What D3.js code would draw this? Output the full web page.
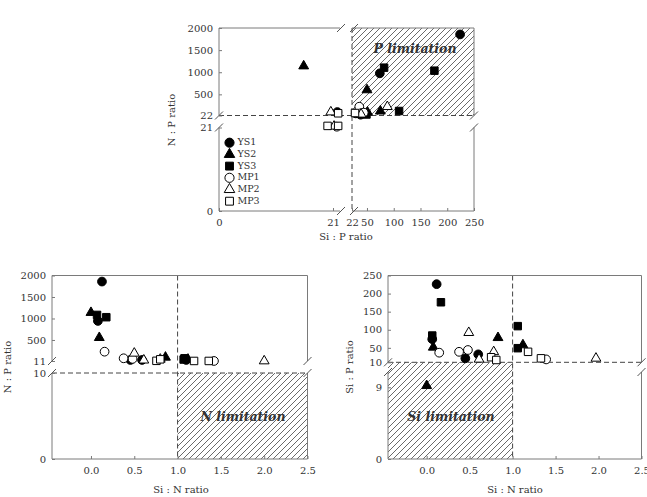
<!DOCTYPE html>
<html>
<head>
<meta charset="utf-8">
<script src="https://cdn.jsdelivr.net/npm/d3@7"></script>
<style>
  body { margin: 0; background: #fff; }
  text { font-family: "DejaVu Serif", serif; fill: #333; }
</style>
</head>
<body>
<div id="chart"></div>
<script>
// series, in legend order
const seriesNames = ["YS1", "YS2", "YS3", "MP1", "MP2", "MP3"];

// top panel: Si:P (x) against N:P (y), one list per series
const topSiP = [
  [224, 74, 21.8, 29, 38],
  [15.6, 50, 75, 51],
  [82, 176, 110, 49],
  [35.6, 39, 44, 21.7],
  [88, 20.6, 21.2, 39],
  [21.95, 27.6, 20.0, 21.95]
];
const topNP = [
  [1855, 975, 100, 70, 40],
  [1140, 600, 120, 95],
  [1103, 1035, 124, 45],
  [221, 74, 87, 21.2],
  [221, 100, 21.3, 50],
  [72, 78, 21.4, 21.4]
];

// bottom left: Si:N (x) against N:P (y)
const leftSiN = [
  [0.127, 0.08, 0.455, 0.59, 1.10],
  [0.0, 0.096, 0.86, 1.12],
  [0.07, 0.177, 1.08, 1.07],
  [0.157, 0.377, 0.48, 1.42],
  [0.50, 0.61, 0.80, 2.0],
  [0.756, 0.80, 1.19, 1.36]
];
const leftNP = [
  [1859, 943, 35, 35, 35],
  [1137, 554, 97, 50],
  [1083, 1030, 74, 45],
  [228, 74, 60, 12],
  [190, 30, 50, 11],
  [15, 50, 12, 12]
];

// bottom right: Si:N (x) against Si:P (y)
const rightSiN = [
  [0.116, 0.065, 0.45, 0.60],
  [0.0, 0.077, 0.83, 1.12],
  [0.166, 0.065, 1.06, 1.06],
  [0.146, 0.377, 0.48, 1.39],
  [0.49, 0.61, 0.78, 1.97],
  [0.75, 0.81, 1.18, 1.33]
];
const rightSiP = [
  [226, 74, 21, 32],
  [9.2, 51.5, 78, 58],
  [176, 84, 110, 49],
  [36.6, 39, 44, 18],
  [92, 18.3, 39, 21],
  [24, 16.4, 39, 21]
];

// tick labels
const topXLowTicks = [0, 21];
const topXHighTicks = [22, 50, 100, 150, 200, 250];
const topYHighTicks = [22, 500, 1000, 1500, 2000];
const topYLowTicks = [0, 21];
const leftYHighTicks = [11, 500, 1000, 1500, 2000];
const leftYLowTicks = [0, 10];
const rightYHighTicks = [10, 50, 100, 150, 200, 250];
const rightYLowTicks = [0, 9];
const siNTicks = [0, 0.5, 1, 1.5, 2, 2.5];

// limitation thresholds
const pLimit = 22;
const nLimitNP = 10;
const siLimitSiP = 10;
const siNLimit = 1;

const width = 647, height = 497;
const frameColor = "#7a7a7a";
const dashColor = "#444";

const svg = d3.select("#chart").append("svg")
  .attr("width", width)
  .attr("height", height);

// hatch pattern
svg.append("defs").append("pattern")
  .attr("id", "hatch")
  .attr("patternUnits", "userSpaceOnUse")
  .attr("width", 6).attr("height", 6)
  .append("path")
  .attr("d", "M-1,1 l2,-2 M0,6 l6,-6 M5,7 l2,-2")
  .attr("stroke", "#444")
  .attr("stroke-width", 0.8);

const symbolTypes = [d3.symbolCircle, d3.symbolTriangle, d3.symbolSquare,
  d3.symbolCircle, d3.symbolTriangle, d3.symbolSquare];
const symbolSizes = [60, 42, 56, 60, 42, 56];
const filled = [true, true, true, false, false, false];

const split = (lo, hi, cut) => ({lo, hi, cut});
const place = (s, v) => s.cut === undefined ? s(v) : (v < s.cut ? s.lo(v) : s.hi(v));

function seg(g, x1, y1, x2, y2) {
  g.append("line")
    .attr("x1", x1).attr("y1", y1).attr("x2", x2).attr("y2", y2)
    .attr("stroke", frameColor).attr("stroke-width", 1);
}

function slash(g, x, y) {
  g.append("line")
    .attr("x1", x - 4).attr("y1", y + 4).attr("x2", x + 4).attr("y2", y - 4)
    .attr("stroke", "#555").attr("stroke-width", 1);
}

function dashed(g, x1, y1, x2, y2) {
  g.append("line")
    .attr("x1", x1).attr("y1", y1).attr("x2", x2).attr("y2", y2)
    .attr("stroke", dashColor).attr("stroke-width", 1)
    .attr("stroke-dasharray", "5,3");
}

function styleAxis(a) {
  a.select(".domain").remove();
  a.selectAll(".tick line").attr("stroke", frameColor);
  a.selectAll(".tick text")
    .style("font-family", "'DejaVu Serif', serif")
    .style("font-size", "10px")
    .attr("fill", "#333");
}

function yAxis(g, scale, ticks, x, fmt) {
  const a = g.append("g").attr("transform", "translate(" + x + ",0)")
    .call(d3.axisLeft(scale).tickValues(ticks).tickFormat(fmt || d3.format("d"))
      .tickSizeInner(-3).tickSizeOuter(0).tickPadding(6));
  styleAxis(a);
}

function xAxis(g, scale, ticks, y, fmt) {
  const a = g.append("g").attr("transform", "translate(0," + y + ")")
    .call(d3.axisBottom(scale).tickValues(ticks).tickFormat(fmt || d3.format("d"))
      .tickSizeInner(-3).tickSizeOuter(0).tickPadding(8));
  styleAxis(a);
}

function drawPoints(g, xs, ys, xSplit, ySplit) {
  seriesNames.forEach((name, i) => {
    const pts = xs[i].map((v, j) => [v, ys[i][j]]);
    g.selectAll(".pt-" + name)
      .data(pts)
      .join("path")
      .attr("class", "pt-" + name)
      .attr("d", d3.symbol().type(symbolTypes[i]).size(symbolSizes[i]))
      .attr("transform", d => "translate(" + place(xSplit, d[0]) + "," + place(ySplit, d[1]) + ")")
      .attr("fill", filled[i] ? "#000" : "#fff")
      .attr("stroke", "#000")
      .attr("stroke-width", 1);
  });
}

function label(g, x, y, txt, rotate, size) {
  g.append("text")
    .attr("transform", "translate(" + x + "," + y + ")" + (rotate ? " rotate(-90)" : ""))
    .attr("text-anchor", "middle")
    .attr("dominant-baseline", "middle")
    .style("font-size", (size || 10) + "px")
    .text(txt);
}

function limitLabel(g, x, y, txt) {
  g.append("text")
    .attr("x", x).attr("y", y)
    .attr("text-anchor", "middle")
    .attr("dominant-baseline", "middle")
    .style("font-size", "12.5px")
    .style("font-weight", "bold")
    .style("font-style", "italic")
    .attr("fill", "#333")
    .text(txt);
}

// ---------------- top panel: Si:P vs N:P ----------------
{
  const g = svg.append("g");
  const xLo = d3.scaleLinear().domain([0, 21]).range([219, 333]);
  const xHi = d3.scaleLinear().domain([22, 250]).range([352, 474]);
  const yHi = d3.scaleLinear().domain([22, 2000]).range([115.5, 28]);
  const yLo = d3.scaleLinear().domain([0, 21]).range([211, 127.5]);
  const xs = split(xLo, xHi, pLimit);
  const ys = split(yLo, yHi, pLimit);
  const xLoEnd = 340;

  // P limitation area
  g.append("rect")
    .attr("x", xHi(pLimit)).attr("y", yHi(2000))
    .attr("width", xHi(250) - xHi(pLimit))
    .attr("height", yHi(pLimit) - yHi(2000))
    .attr("fill", "url(#hatch)");
  limitLabel(g, 415, 49, "P limitation");

  dashed(g, xLo(0), yHi(pLimit), xHi(250), yHi(pLimit));
  dashed(g, xHi(pLimit), yHi(2000), xHi(pLimit), yLo(0));

  // frame in pieces
  [[yHi(2000), yHi(22)], [yLo(21), yLo(0)]].forEach(([a, b]) => {
    seg(g, xLo(0), a, xLo(0), b);
    seg(g, xHi(250), a, xHi(250), b);
  });
  [[xLo(0), xLoEnd], [xHi(22), xHi(250)]].forEach(([a, b]) => {
    seg(g, a, yLo(0), b, yLo(0));
    seg(g, a, yHi(2000), b, yHi(2000));
  });
  [yHi(22), yLo(21)].forEach(y => { slash(g, xLo(0), y); slash(g, xHi(250), y); });
  [xLoEnd + 1, xHi(22) + 2].forEach(x => { slash(g, x, yLo(0)); slash(g, x, yHi(2000)); });

  yAxis(g, yHi, topYHighTicks, xLo(0));
  yAxis(g, yLo, topYLowTicks, xLo(0));
  xAxis(g, xLo, topXLowTicks, yLo(0));
  xAxis(g, xHi, topXHighTicks, yLo(0));

  drawPoints(g, topSiP, topNP, xs, ys);

  // legend
  seriesNames.forEach((name, i) => {
    const y = 142.7 + i * 11.7;
    g.append("path")
      .attr("d", d3.symbol().type(symbolTypes[i]).size(symbolSizes[i] + 6))
      .attr("transform", "translate(229.5," + y + ")")
      .attr("fill", filled[i] ? "#000" : "#fff")
      .attr("stroke", "#000");
    g.append("text")
      .attr("x", 237.5).attr("y", y)
      .attr("dominant-baseline", "middle")
      .style("font-size", "9.5px")
      .text(name);
  });

  label(g, 346, 237, "Si : P ratio");
  label(g, 172, 120, "N : P ratio", true);
}

// ---------------- bottom left: Si:N vs N:P ----------------
{
  const g = svg.append("g");
  const x = d3.scaleLinear().domain([-0.45, 2.5]).range([52, 307.5]);
  const yHi = d3.scaleLinear().domain([11, 2000]).range([361, 275.5]);
  const yLo = d3.scaleLinear().domain([0, 10]).range([459, 373]);
  const ys = split(yLo, yHi, 11);

  // N limitation area
  g.append("rect")
    .attr("x", x(siNLimit)).attr("y", yLo(nLimitNP))
    .attr("width", x(2.5) - x(siNLimit))
    .attr("height", yLo(0) - yLo(nLimitNP))
    .attr("fill", "url(#hatch)");
  limitLabel(g, 243, 417, "N limitation");

  dashed(g, x(-0.45), yLo(nLimitNP), x(2.5), yLo(nLimitNP));
  dashed(g, x(siNLimit), yHi(2000), x(siNLimit), yLo(0));

  [[yHi(2000), yHi(11)], [yLo(10), yLo(0)]].forEach(([a, b]) => {
    seg(g, x(-0.45), a, x(-0.45), b);
    seg(g, x(2.5), a, x(2.5), b);
  });
  seg(g, x(-0.45), yLo(0), x(2.5), yLo(0));
  seg(g, x(-0.45), yHi(2000), x(2.5), yHi(2000));
  [yHi(11), yLo(10)].forEach(y => { slash(g, x(-0.45), y); slash(g, x(2.5), y); });

  yAxis(g, yHi, leftYHighTicks, x(-0.45));
  yAxis(g, yLo, leftYLowTicks, x(-0.45));
  xAxis(g, x, siNTicks, yLo(0), d3.format(".1f"));

  drawPoints(g, leftSiN, leftNP, x, ys);

  label(g, 181, 490, "Si : N ratio");
  label(g, 8, 367, "N : P ratio", true);
}

// ---------------- bottom right: Si:N vs Si:P ----------------
{
  const g = svg.append("g");
  const x = d3.scaleLinear().domain([-0.45, 2.5]).range([388, 641.5]);
  const yHi = d3.scaleLinear().domain([10, 250]).range([362.3, 275.5]);
  const yLo = d3.scaleLinear().domain([0, 9]).range([459, 387.3]);
  const ys = split(yLo, yHi, 10);
  const yLoTop = 372;

  // Si limitation area
  g.append("rect")
    .attr("x", x(-0.45)).attr("y", yHi(siLimitSiP))
    .attr("width", x(siNLimit) - x(-0.45))
    .attr("height", yLo(0) - yHi(siLimitSiP))
    .attr("fill", "url(#hatch)");
  limitLabel(g, 451, 417, "Si limitation");

  dashed(g, x(-0.45), yHi(siLimitSiP), x(2.5), yHi(siLimitSiP));
  dashed(g, x(siNLimit), yHi(250), x(siNLimit), yLo(0));

  [[yHi(250), yHi(10)], [yLoTop, yLo(0)]].forEach(([a, b]) => {
    seg(g, x(-0.45), a, x(-0.45), b);
    seg(g, x(2.5), a, x(2.5), b);
  });
  seg(g, x(-0.45), yLo(0), x(2.5), yLo(0));
  seg(g, x(-0.45), yHi(250), x(2.5), yHi(250));
  [yHi(10), yLoTop].forEach(y => { slash(g, x(-0.45), y); slash(g, x(2.5), y); });

  yAxis(g, yHi, rightYHighTicks, x(-0.45));
  yAxis(g, yLo, rightYLowTicks, x(-0.45));
  xAxis(g, x, siNTicks, yLo(0), d3.format(".1f"));

  drawPoints(g, rightSiN, rightSiP, x, ys);

  label(g, 515, 490, "Si : N ratio");
  label(g, 350, 367, "Si : P ratio", true);
}
</script>
</body>
</html>
